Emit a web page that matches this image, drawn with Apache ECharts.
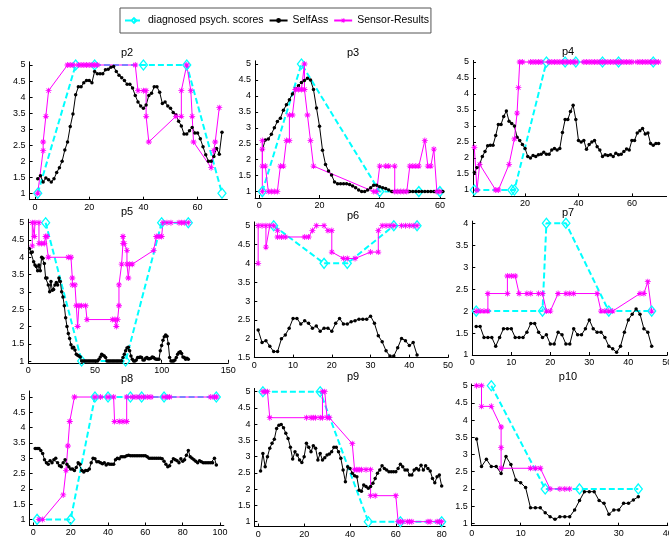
<!DOCTYPE html>
<html><head><meta charset="utf-8">
<script src="https://cdn.jsdelivr.net/npm/echarts@6/dist/echarts.min.js"></script>
<style>html,body{margin:0;padding:0;background:#fff}#c{width:669px;height:537px}</style>
</head><body><div id="c"></div>
<script>
// ---------- data ----------
const seriesNames = ['diagnosed psych. scores', 'SelfAss', 'Sensor-Results'];
const panelTitles = ['p2','p3','p4','p5','p6','p7','p8','p9','p10'];

const yTicks15 = [1,1.5,2,2.5,3,3.5,4,4.5,5];
const yTicks6 = [1.5,2,2.5,3,3.5,4,4.5,5];
const yTicks7 = [1,1.5,2,2.5,3,3.5,4];
const xTicksP2 = [0,20,40,60];
const xTicksP3 = [0,20,40,60];
const xTicksP4 = [20,40,60];
const xTicksP5 = [0,50,100,150];
const xTicksP6 = [0,10,20,30,40,50];
const xTicksP7 = [0,10,20,30,40,50];
const xTicksP8 = [0,20,40,60,80,100];
const xTicksP9 = [0,20,40,60,80];
const xTicksP10 = [0,10,20,30,40];

// p2
const p2Diag = [[1,1],[15,5],[22,5],[40,5],[56,5],[69,1]];
const p2Self = [1.45,1.55,1.35,1.48,1.42,1.35,1.45,1.65,1.8,2.0,2.35,2.6,3.08,3.47,4.07,4.32,4.32,4.45,4.52,4.52,4.45,4.8,4.73,4.73,4.73,4.85,4.87,4.93,4.95,4.8,4.68,4.6,4.52,4.4,4.4,4.28,4.05,3.85,3.72,3.65,3.75,4.05,4.12,4.32,4.32,4.15,3.8,3.85,3.72,3.65,3.52,3.45,3.25,3.1,2.85,2.85,2.95,3.05,2.88,2.88,2.7,2.45,2.2,2.0,2.0,2.15,2.4,2.22,2.9];
const p2Sens = [[1,1],[3,2.33],[3,2.6],[4,3.4],[5,4.2],[12,5],[13,5],[14,5],[16,5],[17,5],[18,5],[19,5],[20,5],[21,5],[22,5],[23,5],[37,5],[38,4.2],[40,4.2],[41,4.2],[41,3.4],[42,2.6],[52,3.4],[54,3.4],[54,4.2],[56,5],[57.5,4.2],[58,3.4],[58.5,2.6],[65,1.8],[66,2.33],[66.5,2.6],[68,3.67]];

// p3
const p3Diag = [[1,1],[14,5],[40,1],[53,1],[60,1]];
const p3Self = [2.31,2.62,2.65,2.8,3.0,3.2,3.3,3.55,3.72,3.88,4.06,4.22,4.32,4.42,4.48,4.55,4.5,4.2,3.62,3.05,2.3,1.85,1.65,1.52,1.3,1.25,1.25,1.25,1.25,1.22,1.18,1.12,1.05,1.0,1.0,1.05,1.12,1.2,1.2,1.15,1.12,1.1,1.05,1.0,1.0,1,1,1,1,1,1,1,1,1,1,1,1,1,1,1,1];
const p3Sens = [[1,1],[1,2.6],[1,2.33],[1,1.8],[2,1.8],[3,1],[4,1],[5,1],[6,1],[7,1.8],[8,1.8],[9,2.6],[10,2.6],[10,3.4],[11,3.4],[12,4.2],[13,4.2],[14,4.2],[15,5],[15,4.2],[16,3.4],[17,2.6],[18,1.8],[38,1],[39,1],[40,1.8],[42,1.8],[43,1.8],[45,1.8],[45,1],[46,1],[47,1],[48,1],[49,1],[50,1.8],[51,1.8],[52,1.8],[53,1.8],[55,2.6],[56,1.8],[57,1.8],[58,2.33],[59,1],[60,1]];

// p4
const p4Diag = [[1,1],[15,1],[16,1],[28,5],[35,5],[39,5],[49,5],[55,5],[68,5]];
const p4Self = [1.55,1.7,1.8,2.05,2.2,2.38,2.4,2.4,2.7,3.05,3.05,3.3,3.47,3.15,3.08,3.0,2.65,2.55,2.42,2.3,2.05,2.0,2.08,2.05,2.1,2.12,2.18,2.12,2.12,2.25,2.3,2.25,2.3,2.8,3.2,3.2,3.45,3.65,3.2,2.55,2.5,2.55,2.27,2.42,2.5,2.55,2.35,2.25,2.05,2.1,2.08,2.1,2.05,2.15,2.1,2.12,2.2,2.28,2.25,2.55,2.55,2.78,2.85,2.92,2.75,2.78,2.45,2.4,2.45,2.45];
const p4Sens = [[1,2.33],[2,1],[3,1.8],[9,1],[10,1],[14,1.8],[16,2.6],[17,3.4],[17.5,4.2],[18,5],[19,5],[22,5],[23,5],[24,5],[25,5],[26,5],[29,5],[30,5],[31,5],[32,5],[33,5],[34,5],[35,5],[36,5],[37,5],[38,5],[39,5],[42,5],[43,5],[44,5],[45,5],[46,5],[47,5],[48,5],[49,5],[50,5],[51,5],[52,5],[53,5],[54,5],[55,5],[56,5],[57,5],[58,5],[59,5],[60,5],[62,5],[63,5],[64,5],[65,5],[66,5],[67,5],[68,5],[69,5],[70,5]];

// p5
const p5Diag = [[13,5],[40,1],[73,1],[100,5],[120,5]];
const p5Self = [4.25,4.13,4.15,3.87,3.78,3.73,3.61,3.78,3.61,4.0,3.97,3.82,3.4,3.4,3.2,3.0,3.3,3.05,3.07,3.2,3.27,3.2,3.4,3.3,3.0,2.85,2.6,2.25,2.0,1.8,1.65,1.47,1.38,1.4,1.32,1.2,1.17,1.15,1.12,1.0,
1,1,1,1,1,1,1,1,1,1,1,1,1.05,1.12,1.2,1.17,1.15,1.1,1.0,1,1,1,1,1,1,1,1,1,1,1,1.1,1.2,1.3,1.38,1.4,1.3,1.15,1.05,1.0,1.0,
1.03,1.1,1.1,1.12,1.1,1.03,1.03,1.08,1.1,1.07,1.07,1.08,1.12,1.1,1.07,1.05,1.05,1.05,1.3,1.45,1.6,1.7,1.75,1.72,1.5,1.1,1.0,1.0,1.0,1.03,1.1,1.2,1.25,1.27,1.22,1.12,1.1,1.05,1.08,1.05];
const p5Sens = [[3,4.33],[3,5],[4.5,4.6],[5,5],[8,5],[8,4.4],[10,4.4],[12,4.4],[13,4.6],[14,4.6],[15,4],[30,4],[32,4],[33,3.4],[33,3.2],[35,3.2],[36,2.6],[37,2],[38,2.6],[40,2.6],[43,2.6],[44,2.2],[63,2.2],[65,2.2],[66,2],[67,2.2],[68,2.6],[68,3.2],[70,3.8],[71,4.4],[71,4.6],[72,4.4],[74,4.2],[74,3.8],[75,3.4],[76,3.8],[78,3.8],[94,4.2],[96,4.6],[98,4.6],[100,4.6],[101,5],[104,5],[107,5],[113,5],[115,5],[117,5],[120,5]];

// p6
const p6Diag = [[5,5],[18,4],[24,4],[36,5],[42,5]];
const p6Self = [2.23,1.9,1.95,1.8,1.66,1.66,2.0,2.1,2.28,2.54,2.54,2.39,2.48,2.41,2.28,2.34,2.2,2.28,2.28,2.2,2.41,2.54,2.39,2.39,2.45,2.48,2.52,2.52,2.52,2.6,2.41,2.08,1.92,1.68,1.54,1.54,1.76,2.01,1.95,1.82,1.9,1.57];
const p6Sens = [[1,4],[1,5],[2,5],[3,5],[3,4.43],[4,5],[5,5],[6,4.87],[6,4.7],[7,4.7],[8,4.7],[13,4.7],[14,4.7],[15,4.87],[16,5],[18,5],[19,4.87],[20,4.87],[20,4.3],[23,4.13],[24,4.13],[26,4.13],[30,4.3],[32,4.3],[32,4.87],[33,5],[34,5],[35,5],[36,5],[38,5],[39,5],[40,5],[41,5],[42,5]];

// p7
const p7Diag = [[1,2],[18,2],[19,4],[24,4],[35,2],[46,2]];
const p7Self = [1.65,1.65,1.4,1.4,1.4,1.2,1.4,1.6,1.6,1.6,1.4,1.4,1.4,1.52,1.72,1.72,1.52,1.4,1.46,1.25,1.25,1.52,1.46,1.25,1.25,1.6,1.46,1.46,1.6,1.8,1.6,1.52,1.52,1.4,1.2,1.14,1.06,1.2,1.52,1.8,1.93,2.05,1.93,1.6,1.52,1.2];
const p7Sens = [[1,2],[2,2],[3,2],[4,2],[4,2.4],[9,2.4],[9,2.8],[10,2.8],[11,2.8],[12,2.4],[14,2.4],[15,2.4],[17,2.4],[18,2.4],[19,2],[20,2],[22,2.4],[24,2.4],[25,2.4],[26,2.4],[32,2.4],[33,2],[34,2],[35,2],[36,2],[43,2.4],[44,2.4],[45,2.67],[46,2]];

// p8
const p8Diag = [[2,1],[20,1],[33,5],[40,5],[52,5],[58,5],[70,5],[98,5]];
const p8Self = [3.32,3.32,3.32,3.25,3.15,2.95,2.85,2.8,2.92,2.85,2.95,3.0,2.85,2.75,2.72,2.85,2.95,2.8,2.72,2.65,2.65,2.6,2.7,2.85,2.8,2.6,2.55,2.6,2.6,2.65,2.85,3.0,2.98,2.88,2.88,2.85,2.82,2.85,2.78,2.82,2.8,2.8,2.8,2.95,3.0,2.98,3.05,3.05,3.05,3.08,3.1,3.08,3.08,3.08,3.08,3.08,3.08,3.08,3.08,3.08,3.05,3.0,3.0,3.0,3.0,3.0,3.0,3.0,2.98,2.9,2.8,2.72,2.75,2.88,2.98,2.95,2.92,2.85,2.98,2.9,2.95,3.1,3.25,3.05,3.0,2.95,2.9,2.85,2.92,2.88,2.85,2.85,2.85,2.85,2.85,2.85,3.0,2.78];
const p8Sens = [[3,1],[5,1],[16,1.8],[17.5,2.6],[18.5,3.4],[19.5,4.2],[22,5],[33,5],[36,5],[40,5],[43,5],[43.5,4.2],[46,4.2],[48,4.2],[50,4.2],[50,5],[53,5],[55,5],[57,5],[59,5],[61,5],[63,5],[70,5],[72,5],[73,5],[95,5],[97,5],[98,5]];

// p9
const p9Diag = [[2,5],[27,5],[48,1],[62,1],[80,1]];
const p9Self = [2.56,3.1,2.69,3.0,3.26,3.41,3.54,3.87,3.97,3.99,3.89,3.72,3.56,3.29,2.93,3.15,3.05,2.9,2.82,3.0,3.41,3.29,3.15,3.34,3.26,2.9,3.1,2.9,2.97,3.05,3.08,3.15,3.29,3.29,3.15,2.95,2.59,2.23,2.69,2.64,2.49,2.41,2.38,1.97,1.94,2.13,2.08,2.03,2.08,2.18,2.33,2.49,2.59,2.72,2.64,2.59,2.54,2.54,2.54,2.54,2.64,2.77,2.69,2.59,2.59,2.44,2.44,2.59,2.64,2.59,2.74,2.59,2.72,2.64,2.56,2.33,2.2,2.38,2.44,2.1];
const p9Sens = [[2,5],[3,5],[4,5],[5,4.2],[21,4.2],[23,4.2],[24,4.2],[25,4.2],[27,4.2],[28,4.2],[28,5],[29,5],[30,4.2],[31,4.2],[41,3.4],[42,2.6],[43,2.6],[44,2.6],[45,2.6],[47,2.6],[49,2.6],[49,1.8],[51,1.8],[60,1.8],[61,1],[62,1],[63,1],[65,1],[66,1],[67,1],[74,1],[75,1],[78,1],[79,1],[80,1]];

// p10
const p10Diag = [[4,5],[15,2],[22,2],[34,2]];
const p10Self = [3.45,2.65,2.86,2.65,2.65,2.45,2.94,2.71,2.26,2.18,2.04,1.45,1.45,1.45,1.31,1.19,1.12,1.19,1.19,1.19,1.39,1.66,1.92,1.92,1.92,1.66,1.58,1.26,1.39,1.39,1.58,1.58,1.68,1.77];
const p10Sens = [[1,5],[2,5],[2,4.4],[4,4.4],[6,3.8],[6,3.2],[6,2.6],[12,2.6],[13,2.6],[14,2.6],[16,2],[18,2],[19,2],[20,2]];

// ---------- layout ----------
const FONT = '"Liberation Sans", Arial, Helvetica, sans-serif';
const STAR = 'path://M-0.7,-5L0.7,-5L0.7,5L-0.7,5Z M-5,-0.7L5,-0.7L5,0.7L-5,0.7Z M-3,-4L4,3L3,4L-4,-3Z M-4,3L3,-4L4,-3L-3,4Z';

const panels = [
  {diag:p2Diag, self:p2Self, sens:p2Sens, g:[29.6,61.8,197.8,137.9], x:[-2,71], y:[0.8,5.1], xt:xTicksP2, yt:yTicks15, t:[127,47]},
  {diag:p3Diag, self:p3Self, sens:p3Sens, g:[255.1,60.8,189.9,137.2], x:[-1.4,61.7], y:[0.8,5.1], xt:xTicksP3, yt:yTicks15, t:[353,47.5]},
  {diag:p4Diag, self:p4Self, sens:p4Sens, g:[473,60.4,193.6,136], x:[0.5,73], y:[0.8,5.05], xt:xTicksP4, yt:yTicks15, t:[568,46]},
  {diag:p5Diag, self:p5Self, sens:p5Sens, g:[28.3,219.2,200,143.6], x:[0,150], y:[0.95,5.1], xt:xTicksP5, yt:yTicks15, t:[127,206.5]},
  {diag:p6Diag, self:p6Self, sens:p6Sens, g:[254.3,221.9,193.75,135.7], x:[0,50], y:[1.5,5.1], xt:xTicksP6, yt:yTicks6, t:[353,210.5]},
  {diag:p7Diag, self:p7Self, sens:p7Sens, g:[472.3,221.1,195,133.9], x:[0,50], y:[1,4.05], xt:xTicksP7, yt:yTicks7, t:[568,207.5]},
  {diag:p8Diag, self:p8Self, sens:p8Sens, g:[29.6,390.9,194.2,134.6], x:[-2,102], y:[0.8,5.2], xt:xTicksP8, yt:yTicks15, t:[127,373.5]},
  {diag:p9Diag, self:p9Self, sens:p9Sens, g:[254.4,388.45,190.7,138.1], x:[-1.7,81.5], y:[0.85,5.1], xt:xTicksP9, yt:yTicks15, t:[353,371.5]},
  {diag:p10Diag, self:p10Self, sens:p10Sens, g:[471.7,384,196,141.7], x:[0,40], y:[0.93,5.05], xt:xTicksP10, yt:yTicks15, t:[568,371.5]}
];

const grid = [], xAxis = [], yAxis = [], series = [], title = [];
panels.forEach((p, i) => {
  grid.push({left:p.g[0], top:p.g[1], width:p.g[2], height:p.g[3], containLabel:false, outerBoundsMode:'none'});
  const axCommon = {
    type:'value', gridIndex:i, splitLine:{show:false},
    axisLine:{show:true, onZero:false, lineStyle:{color:'#000', width:1}},
    axisLabel:{color:'#000', fontSize:9, fontFamily:FONT},
    axisTick:{show:true, inside:true, length:3, lineStyle:{color:'#000', width:1}}
  };
  xAxis.push(Object.assign({}, axCommon, {min:p.x[0], max:p.x[1], position:'bottom',
    axisLabel:Object.assign({}, axCommon.axisLabel, {customValues:p.xt, margin:3}),
    axisTick:Object.assign({}, axCommon.axisTick, {customValues:p.xt})}));
  yAxis.push(Object.assign({}, axCommon, {min:p.y[0], max:p.y[1], position:'left',
    axisLabel:Object.assign({}, axCommon.axisLabel, {customValues:p.yt, margin:4}),
    axisTick:Object.assign({}, axCommon.axisTick, {customValues:p.yt})}));
  title.push({text:panelTitles[i], left:p.t[0], top:p.t[1], textAlign:'center', padding:0,
    textStyle:{fontSize:11, fontWeight:'normal', color:'#000', fontFamily:FONT}});
  series.push({
    type:'line', name:seriesNames[0], xAxisIndex:i, yAxisIndex:i, data:p.diag,
    symbol:'diamond', symbolSize:[8,10], showAllSymbol:true,
    lineStyle:{color:'#00FFFF', width:2, type:[6,3]},
    itemStyle:{color:'rgba(255,255,255,0)', borderColor:'#00FFFF', borderWidth:1.3}
  });
  series.push({
    type:'line', name:seriesNames[1], xAxisIndex:i, yAxisIndex:i,
    data:p.self.map((v, k) => [k + 1, v]),
    symbol:'circle', symbolSize:3.5, showAllSymbol:true,
    lineStyle:{color:'#000', width:1}, itemStyle:{color:'#000'}
  });
  series.push({
    type:'line', name:seriesNames[2], xAxisIndex:i, yAxisIndex:i, data:p.sens,
    symbol:STAR, symbolSize:6, showAllSymbol:true,
    lineStyle:{color:'#FF00FF', width:1}, itemStyle:{color:'#FF00FF'}
  });
});

const chart = echarts.init(document.getElementById('c'), null, {renderer:'canvas'});
chart.setOption({
  animation:false,
  backgroundColor:'#fff',
  title,
  legend:{
    data:seriesNames, left:120, top:8, orient:'horizontal',
    padding:[6,2,6,4], itemGap:5, itemWidth:18, itemHeight:6,
    borderColor:'#555', borderWidth:1, backgroundColor:'#fff', selectedMode:false,
    textStyle:{fontSize:10.5, fontFamily:FONT, color:'#000', lineHeight:13}
  },
  grid, xAxis, yAxis, series
});
</script>
</body></html>
